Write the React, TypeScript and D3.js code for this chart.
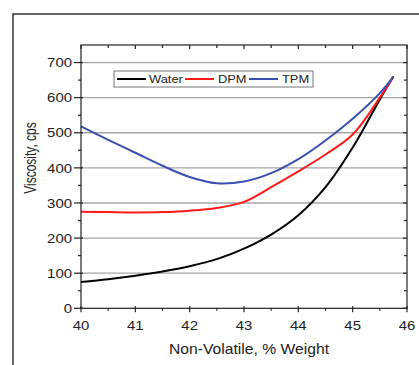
import React from 'react'
import * as d3 from 'd3'

// values
const nonVolatile = [40, 40.5, 41, 41.5, 42, 42.5, 43, 43.5, 44, 44.5, 45, 45.5, 45.75]
const water = [75, 83, 93, 105, 120, 140, 170, 210, 265, 345, 458, 595, 660]
const dpm = [275, 274, 273, 274, 278, 286, 303, 345, 390, 438, 495, 600, 660]
const tpm = [518, 480, 443, 406, 374, 356, 361, 385, 425, 478, 540, 613, 660]

const xTicks = [40, 41, 42, 43, 44, 45, 46]
const xMinor = [40.5, 41.5, 42.5, 43.5, 44.5, 45.5]
const yTicks = [0, 100, 200, 300, 400, 500, 600, 700]
const yMinor = [50, 150, 250, 350, 450, 550, 650]

const seriesNames = ['Water', 'DPM', 'TPM']
const seriesColors = ['#000000', '#ff1a1a', '#3a4fb0']

const W = 419
const H = 365
const font = 'Arial, "Liberation Sans", Helvetica, sans-serif'

const App: React.FC = () => {
  const x = d3.scaleLinear().domain([40, 46]).range([81, 407])
  const y = d3.scaleLinear().domain([0, 750]).range([308.3, 45])
  const [x0, x1] = x.range()
  const [y0, y1] = y.range()

  const series = [water, dpm, tpm]
  const line = d3
    .line<number>()
    .x((_, i) => x(nonVolatile[i]))
    .y(d => y(d))
    .curve(d3.curveCatmullRom.alpha(0.5))

  // legend layout
  const lg = { x: 114, y: 71, w: 199, h: 16 }
  const legendItems = [
    { lx: 117, tx: 149 },
    { lx: 185, tx: 218 },
    { lx: 249, tx: 282 },
  ]

  return (
    <svg width={W} height={H} style={{ position: 'absolute', left: 0, top: 0, background: '#fff' }}>
      {/* outer frame */}
      <path d={`M13,${H} L13,14 L${W},14`} fill="none" stroke="#333" strokeWidth={1.5} />

      {/* grid lines */}
      {yTicks.filter(t => t > 0).map(t => (
        <line key={'g' + t} x1={x0} x2={x1} y1={y(t)} y2={y(t)} stroke="#a6a6a6" strokeWidth={1.3} />
      ))}

      {/* curves */}
      {series.map((s, i) => (
        <path key={seriesNames[i]} d={line(s) || ''} fill="none" stroke={seriesColors[i]} strokeWidth={2} />
      ))}

      {/* plot frame */}
      <rect x={x0} y={y1} width={x1 - x0} height={y0 - y1} fill="none" stroke="#222" strokeWidth={1.2} />

      {/* bottom / top ticks */}
      {xTicks.map(t => (
        <g key={'xt' + t}>
          <line x1={x(t)} x2={x(t)} y1={y0 - 2} y2={y0 + 4} stroke="#222" strokeWidth={1.2} />
          <line x1={x(t)} x2={x(t)} y1={y1} y2={y1 + 4} stroke="#222" strokeWidth={1.2} />
          <text
            transform={`translate(${x(t)},330) scale(1.15,1)`}
            textAnchor="middle"
            fontFamily={font}
            fontSize={13}
            fill="#222"
          >
            {t}
          </text>
        </g>
      ))}
      {xMinor.map(t => (
        <g key={'xm' + t}>
          <line x1={x(t)} x2={x(t)} y1={y0} y2={y0 + 2.5} stroke="#222" strokeWidth={1.2} />
          <line x1={x(t)} x2={x(t)} y1={y1} y2={y1 + 3} stroke="#222" strokeWidth={1.2} />
        </g>
      ))}

      {/* left / right ticks */}
      {yTicks.map(t => (
        <g key={'yt' + t}>
          <line x1={x0 - 7} x2={x0 + 2} y1={y(t)} y2={y(t)} stroke="#222" strokeWidth={1.2} />
          <line x1={x1 - 4} x2={x1} y1={y(t)} y2={y(t)} stroke="#222" strokeWidth={1.2} />
          <text
            transform={`translate(72,${y(t) + 4.7}) scale(1.15,1)`}
            textAnchor="end"
            fontFamily={font}
            fontSize={13}
            fill="#222"
          >
            {t}
          </text>
        </g>
      ))}
      {yMinor.map(t => (
        <g key={'ym' + t}>
          <line x1={x0 - 3} x2={x0} y1={y(t)} y2={y(t)} stroke="#222" strokeWidth={1.2} />
          <line x1={x1 - 3} x2={x1} y1={y(t)} y2={y(t)} stroke="#222" strokeWidth={1.2} />
        </g>
      ))}

      {/* axis titles */}
      <text
        transform={`translate(${(x0 + x1) / 2 + 5},354) scale(1.12,1)`}
        textAnchor="middle"
        fontFamily={font}
        fontSize={14}
        fill="#222"
      >
        Non-Volatile, % Weight
      </text>
      <text
        transform={`translate(36,158) scale(1.3,1) rotate(-90)`}
        textAnchor="middle"
        fontFamily={font}
        fontSize={12}
        fill="#222"
      >
        Viscosity, cps
      </text>

      {/* legend */}
      <rect x={lg.x} y={lg.y} width={lg.w} height={lg.h} fill="#fff" stroke="#777" strokeWidth={1} />
      {legendItems.map((it, i) => (
        <g key={'lg' + i}>
          <line
            x1={it.lx}
            x2={it.lx + 29}
            y1={lg.y + lg.h / 2}
            y2={lg.y + lg.h / 2}
            stroke={seriesColors[i]}
            strokeWidth={2}
          />
          <text
            transform={`translate(${it.tx},${lg.y + lg.h / 2 + 4}) scale(1.17,1)`}
            fontFamily={font}
            fontSize={11}
            fill="#222"
          >
            {seriesNames[i]}
          </text>
        </g>
      ))}
    </svg>
  )
}

export default App
